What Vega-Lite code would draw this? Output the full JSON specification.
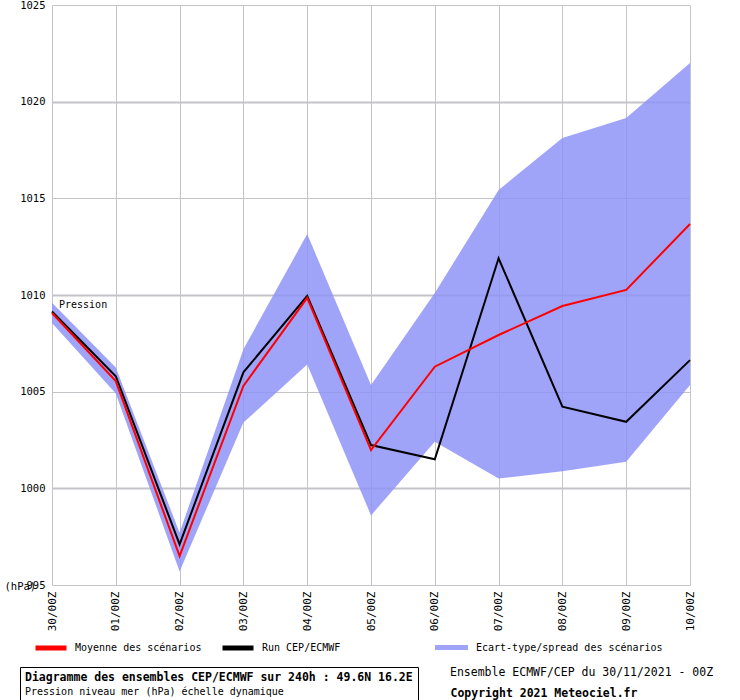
{
  "$schema": "https://vega.github.io/schema/vega-lite/v6.json",
  "autosize": {"type": "none"},
  "width": 638,
  "height": 580,
  "padding": {"left": 52, "top": 5, "right": 50, "bottom": 115},
  "background": "white",
  "config": {
    "font": "DejaVu Sans Mono",
    "view": {"stroke": null},
    "axis": {"labelFont": "DejaVu Sans Mono", "labelColor": "black", "titleFont": "DejaVu Sans Mono"},
    "legend": {"labelFont": "DejaVu Sans Mono", "titleFont": "DejaVu Sans Mono", "labelLimit": 500, "titleLimit": 500}
  },
  "data": {
    "values": [
      {"day": "30/00Z", "mean": 1009.07, "run": 1009.15, "lo": 1008.55, "hi": 1009.6},
      {"day": "01/00Z", "mean": 1005.55, "run": 1005.8, "lo": 1004.9, "hi": 1006.25},
      {"day": "02/00Z", "mean": 996.5, "run": 997.1, "lo": 995.7, "hi": 997.7},
      {"day": "03/00Z", "mean": 1005.3, "run": 1006.0, "lo": 1003.4, "hi": 1007.2},
      {"day": "04/00Z", "mean": 1009.85, "run": 1009.95, "lo": 1006.4, "hi": 1013.15},
      {"day": "05/00Z", "mean": 1001.98, "run": 1002.24, "lo": 998.6, "hi": 1005.34},
      {"day": "06/00Z", "mean": 1006.29, "run": 1001.5, "lo": 1002.41, "hi": 1010.1},
      {"day": "07/00Z", "mean": 1007.93, "run": 1011.9, "lo": 1000.51, "hi": 1015.43},
      {"day": "08/00Z", "mean": 1009.43, "run": 1004.22, "lo": 1000.89, "hi": 1018.12},
      {"day": "09/00Z", "mean": 1010.26, "run": 1003.44, "lo": 1001.38, "hi": 1019.15},
      {"day": "10/00Z", "mean": 1013.67, "run": 1006.63, "lo": 1005.34, "hi": 1022.0}
    ]
  },
  "encoding": {
    "x": {
      "field": "day", "type": "ordinal", "sort": null,
      "scale": {"type": "point", "padding": 0},
      "axis": {
        "title": null, "labelAngle": 270, "labelFontSize": 11, "labelPadding": 6,
        "ticks": false, "domain": false, "grid": true, "gridColor": "#c4c4c8", "gridWidth": 1, "gridOpacity": 1
      }
    }
  },
  "layer": [
    {
      "mark": {"type": "area", "opacity": 0.85},
      "encoding": {
        "y": {
          "field": "lo", "type": "quantitative",
          "scale": {"domain": [995, 1025], "nice": false, "zero": false},
          "axis": {
            "values": [995, 1000, 1005, 1010, 1015, 1020, 1025],
            "format": "d", "labelFontSize": 10.5, "labelPadding": 7, "ticks": false, "domain": false,
            "grid": true, "gridColor": "#c4c4c8", "gridOpacity": 1,
            "gridWidth": {"condition": {"test": "datum.value % 10 === 0", "value": 2}, "value": 1},
            "title": "(hPa)", "titleAngle": 0, "titleFontWeight": "normal", "titleFontSize": 10.5,
            "titleX": -48, "titleY": 581, "titleAlign": "left", "titleBaseline": "middle"
          }
        },
        "y2": {"field": "hi"},
        "fill": {
          "datum": "Ecart-type/spread des scénarios",
          "scale": {"domain": ["Ecart-type/spread des scénarios"], "range": ["#8f94f7"]},
          "legend": {
            "title": null, "orient": "none", "legendX": 383, "legendY": 626, "padding": 0,
            "symbolType": "M-1,-0.15H1V0.15H-1Z", "symbolSize": 1089, "symbolOpacity": 0.85, "symbolStrokeWidth": 0,
            "labelFontSize": 10, "labelOffset": 8
          }
        }
      }
    },
    {
      "mark": {"type": "line", "strokeWidth": 2},
      "encoding": {
        "y": {"field": "run", "type": "quantitative"},
        "stroke": {
          "datum": "Run CEP/ECMWF",
          "scale": {"domain": ["Moyenne des scénarios", "Run CEP/ECMWF"], "range": ["#ff0000", "#000000"]},
          "legend": {
            "title": null, "orient": "none", "direction": "horizontal", "columns": 2,
            "legendX": -19, "legendY": 625, "padding": 0,
            "symbolType": "stroke", "symbolSize": 961, "symbolStrokeWidth": 5,
            "labelFontSize": 10, "labelOffset": 6, "columnPadding": 10
          }
        }
      }
    },
    {
      "mark": {"type": "line", "strokeWidth": 2},
      "encoding": {
        "y": {"field": "mean", "type": "quantitative"},
        "stroke": {"datum": "Moyenne des scénarios"}
      }
    },
    {
      "mark": {"type": "point", "opacity": 0},
      "encoding": {
        "y": {"field": "mean", "type": "quantitative"},
        "shape": {
          "datum": "Pression niveau mer (hPa) échelle dynamique",
          "legend": {
            "title": "Diagramme des ensembles CEP/ECMWF sur 240h : 49.6N 16.2E",
            "titleFontSize": 11.5, "titleFontWeight": "bold", "titleColor": "black", "titlePadding": 3,
            "orient": "none", "legendX": -32, "legendY": 662, "padding": 5,
            "strokeColor": "black", "fillColor": "white",
            "symbolSize": 0, "symbolOpacity": 0, "labelOffset": -10, "labelFontSize": 10, "labelColor": "black"
          }
        }
      }
    },
    {
      "mark": {"type": "point", "opacity": 0},
      "encoding": {
        "y": {"field": "mean", "type": "quantitative"},
        "shape": {
          "datum": "Copyright 2021 Meteociel.fr",
          "legend": {
            "title": "Ensemble ECMWF/CEP du 30/11/2021 - 00Z",
            "titleFontSize": 11.5, "titleFontWeight": "normal", "titleColor": "black", "titlePadding": 10,
            "orient": "none", "legendX": 398, "legendY": 662, "padding": 0,
            "symbolSize": 0, "symbolOpacity": 0, "labelOffset": -11,
            "labelFontSize": 11.5, "labelFontWeight": "bold", "labelColor": "black"
          }
        }
      }
    },
    {
      "data": {"values": [{"day": "30/00Z", "value": 1009.5, "label": "Pression"}]},
      "mark": {"type": "text", "align": "left", "baseline": "middle", "dx": 7, "fontSize": 10, "font": "DejaVu Sans Mono", "color": "black"},
      "encoding": {
        "y": {"field": "value", "type": "quantitative"},
        "text": {"field": "label"}
      }
    }
  ],
  "resolve": {"scale": {"shape": "independent"}}
}
